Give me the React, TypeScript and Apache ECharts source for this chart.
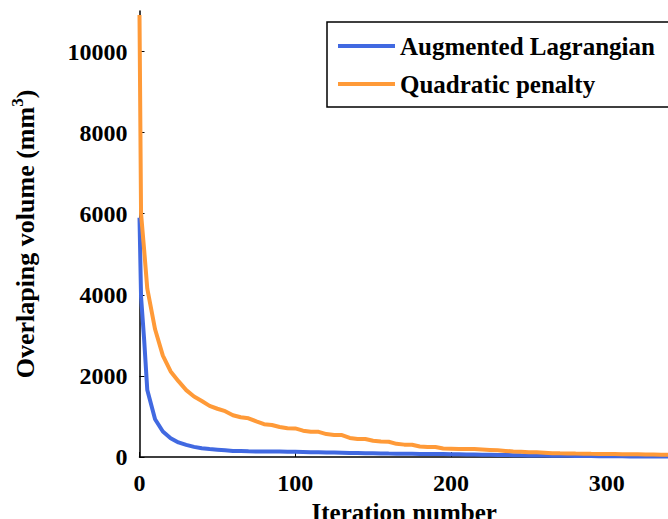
import React, { useEffect, useRef } from "react";
import * as echarts from "echarts";

const iterations = [0, 1, 3, 5, 10, 15, 20, 25, 30, 35, 40, 45, 50, 55, 60, 65, 70, 75, 80, 85, 90, 95, 100, 105, 110, 115, 120, 125, 130, 135, 140, 145, 150, 155, 160, 165, 170, 175, 180, 185, 190, 195, 200, 205, 210, 215, 220, 225, 230, 235, 240, 245, 250, 255, 260, 265, 270, 275, 280, 285, 290, 295, 300, 305, 310, 315, 320, 325, 330, 335, 340];

const augmentedLagrangian = [5900, 3950, 2880, 1650, 930, 630, 465, 360, 300, 250, 215, 195, 180, 165, 150, 145, 140, 138, 136, 135, 133, 130, 127, 124, 120, 116, 112, 108, 104, 100, 97, 94, 91, 88, 85, 83, 81, 79, 77, 75, 73, 71, 69, 66, 63, 60, 57, 54, 51, 48, 45, 42, 40, 37, 35, 33, 31, 29, 27, 25, 23, 21, 19, 17, 16, 15, 14, 13, 12, 11, 10];

const quadraticPenalty = [10900, 6000, 5100, 4150, 3150, 2500, 2110, 1870, 1650, 1490, 1380, 1260, 1190, 1130, 1030, 980, 955, 880, 810, 790, 740, 710, 705, 650, 625, 620, 565, 545, 540, 470, 445, 443, 400, 380, 377, 325, 305, 303, 260, 248, 246, 210, 205, 200, 200, 195, 185, 175, 165, 150, 135, 128, 120, 115, 105, 95, 90, 88, 84, 82, 78, 75, 74, 73, 70, 67, 65, 62, 60, 58, 56];

const yTicks = [0, 2000, 4000, 6000, 8000, 10000];
const xTicks = [0, 100, 200, 300];

const seriesNames = ["Augmented Lagrangian", "Quadratic penalty"];

const FONT = '"Liberation Serif", "Times New Roman", serif';

export default function App() {
  const ref = useRef<HTMLDivElement>(null);
  useEffect(() => {
    if (!ref.current) return;
    const chart = echarts.init(ref.current, null, { renderer: "svg" });
    const axisText = {
      fontFamily: FONT,
      fontWeight: "bold",
      fontSize: 24,
      color: "#000",
      formatter: (v: number) => String(v),
    };
    chart.setOption({
      animation: false,
      backgroundColor: "#fff",
      grid: {
        left: 139.5,
        top: 11,
        right: -1,
        bottom: 62,
        containLabel: false,
        outerBoundsMode: "none",
      },
      graphic: [
        {
          type: "rect",
          x: 327,
          y: 22,
          z: 3,
          shape: { x: 0, y: 0, width: 400, height: 85 },
          style: { fill: "#fff", stroke: "#000", lineWidth: 1.5 },
        },
      ],
      legend: {
        data: seriesNames,
        orient: "vertical",
        left: 327,
        top: 22,
        padding: [11.5, 10, 10.5, 11],
        itemGap: 13,
        itemWidth: 57,
        itemHeight: 4,
        icon: "rect",
        textStyle: { fontFamily: FONT, fontWeight: "bold", fontSize: 25, color: "#000" },
      },
      xAxis: {
        type: "value",
        min: 0,
        max: 340,
        interval: 100,
        name: "Iteration number",
        nameLocation: "middle",
        nameGap: 38,
        nameTextStyle: { fontFamily: FONT, fontWeight: "bold", fontSize: 25, color: "#000" },
        axisLine: { show: true, onZero: false, lineStyle: { color: "#000", width: 1.5 } },
        axisTick: { show: true, inside: true, length: 5, lineStyle: { color: "#000" }, customValues: xTicks },
        axisLabel: { ...axisText, margin: 14, customValues: xTicks },
        splitLine: { show: false },
      },
      yAxis: {
        type: "value",
        min: 0,
        max: 11000,
        interval: 2000,
        name: "{a|Overlaping volume (mm}{s|3}{a|)}",
        nameLocation: "middle",
        nameRotate: 90,
        nameGap: 98,
        nameTextStyle: {
          rich: {
            a: { fontFamily: FONT, fontWeight: "bold", fontSize: 26, color: "#000" },
            s: { fontFamily: FONT, fontWeight: "bold", fontSize: 17, color: "#000", padding: [0, 0, 16, 0] },
          },
        },
        axisLine: { show: true, onZero: false, lineStyle: { color: "#000", width: 1.5 } },
        axisTick: { show: true, inside: true, length: 5, lineStyle: { color: "#000" }, customValues: yTicks },
        axisLabel: { ...axisText, margin: 12, customValues: yTicks },
        splitLine: { show: false },
      },
      series: [
        {
          name: seriesNames[0],
          type: "line",
          data: iterations.map((x, i) => [x, augmentedLagrangian[i]]),
          showSymbol: false,
          lineStyle: { width: 4, color: "#4169E1" },
          itemStyle: { color: "#4169E1" },
        },
        {
          name: seriesNames[1],
          type: "line",
          data: iterations.map((x, i) => [x, quadraticPenalty[i]]),
          showSymbol: false,
          lineStyle: { width: 4, color: "#FF9A38" },
          itemStyle: { color: "#FF9A38" },
        },
      ],
    });
    return () => chart.dispose();
  }, []);
  return (
    <div
      ref={ref}
      style={{ position: "absolute", left: 0, top: 0, width: 668, height: 519 }}
    />
  );
}
